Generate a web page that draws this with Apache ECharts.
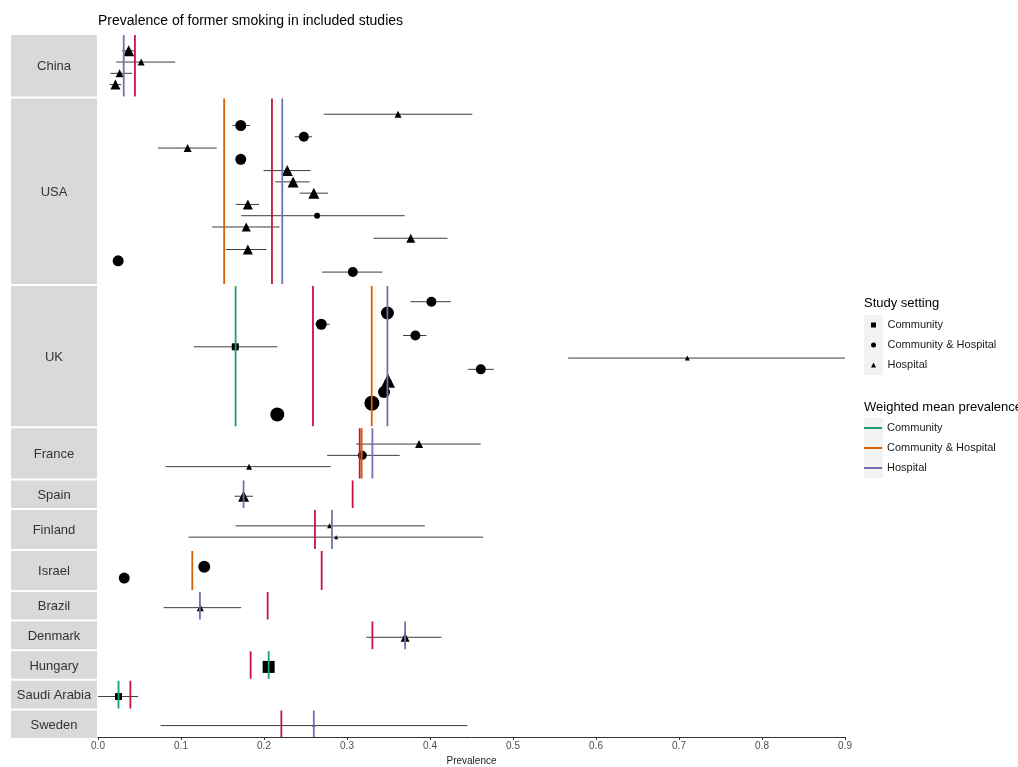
<!DOCTYPE html>
<html><head><meta charset="utf-8">
<script src="https://cdn.jsdelivr.net/npm/echarts@6/dist/echarts.min.js"></script>
<style>html,body{margin:0;padding:0;background:#fff}#c{width:1018px;height:767px}</style>
</head><body><div id="c"></div>
<script>
// ---------------- DATA ----------------
const countries = ['China','USA','UK','France','Spain','Finland','Israel','Brazil','Denmark','Hungary','Saudi Arabia','Sweden'];
const settings = ['Community','Community & Hospital','Hospital'];
const xTickLabels = ['0.0','0.1','0.2','0.3','0.4','0.5','0.6','0.7','0.8','0.9'];

const studyCountry = [
  'China','China','China','China',
  'USA','USA','USA','USA','USA','USA','USA','USA','USA','USA','USA','USA','USA','USA','USA',
  'UK','UK','UK','UK','UK','UK','UK','UK','UK','UK','UK',
  'France','France','France',
  'Spain',
  'Finland','Finland',
  'Israel','Israel',
  'Brazil',
  'Denmark',
  'Hungary',
  'Saudi Arabia',
  'Sweden'
];
const studySetting = [
  'Hospital','Hospital','Hospital','Hospital',
  'Hospital','Community & Hospital','Community & Hospital','Hospital','Community & Hospital','Hospital','Hospital','Hospital','Hospital','Community & Hospital','Hospital','Hospital','Hospital','Community & Hospital','Community & Hospital',
  'Community & Hospital','Community & Hospital','Community & Hospital','Community & Hospital','Community','Hospital','Community & Hospital','Hospital','Community & Hospital','Community & Hospital','Community & Hospital',
  'Hospital','Community & Hospital','Hospital',
  'Hospital',
  'Hospital','Hospital',
  'Community & Hospital','Community & Hospital',
  'Hospital',
  'Hospital',
  'Community',
  'Community',
  'Hospital'
];
const studyEst = [
  0.037,0.052,0.026,0.021,
  0.3615,0.172,0.248,0.108,0.172,0.228,0.235,0.260,0.1806,0.264,0.1786,0.3768,0.1806,0.0243,0.307,
  0.4017,0.3487,0.269,0.3824,0.1654,0.710,0.4612,0.3494,0.3446,0.330,0.216,
  0.3868,0.3185,0.182,
  0.1754,
  0.279,0.287,
  0.128,0.0316,
  0.1232,
  0.370,
  0.2056,
  0.0247,
  0.260
];
const studyLow = [
  0.029,0.022,0.015,0.014,
  0.272,0.162,0.237,0.072,0.168,0.1995,0.2136,0.243,0.166,0.1726,0.1377,0.332,0.1537,0.022,0.270,
  0.3764,0.345,0.262,0.3675,0.1155,0.5665,0.446,0.345,0.340,0.326,0.212,
  0.311,0.276,0.0814,
  0.1646,
  0.1658,0.109,
  0.125,0.029,
  0.079,
  0.3234,
  0.200,
  0.0,
  0.0754
];
const studyHigh = [
  0.045,0.093,0.041,0.028,
  0.451,0.183,0.258,0.143,0.176,0.256,0.255,0.277,0.194,0.3695,0.2188,0.421,0.203,0.027,0.3427,
  0.425,0.352,0.279,0.3957,0.216,0.900,0.477,0.354,0.349,0.334,0.220,
  0.461,0.3635,0.2803,
  0.1866,
  0.3937,0.464,
  0.131,0.034,
  0.1726,
  0.4138,
  0.211,
  0.0485,
  0.445
];
// relative study weight (drives marker size)
const studyWeight = [
  9,5,6,8,
  5,9,8,6,9,9,9,9,8,4,7,7,8,9,8,
  8,11,9,8,5,3,8,12,10,13,12,
  6,7,4,
  9,
  3,2,
  10,9,
  5,
  7,
  10,
  5,
  1
];

const meanCountry = [
  'China','China',
  'USA','USA','USA',
  'UK','UK','UK','UK',
  'France','France','France',
  'Spain','Spain',
  'Finland','Finland',
  'Israel','Israel',
  'Brazil','Brazil',
  'Denmark','Denmark',
  'Hungary','Hungary',
  'Saudi Arabia','Saudi Arabia',
  'Sweden','Sweden'
];
const meanType = [
  'Hospital','Overall',
  'Community & Hospital','Overall','Hospital',
  'Community','Overall','Community & Hospital','Hospital',
  'Overall','Community & Hospital','Hospital',
  'Hospital','Overall',
  'Overall','Hospital',
  'Community & Hospital','Overall',
  'Hospital','Overall',
  'Overall','Hospital',
  'Overall','Community',
  'Community','Overall',
  'Overall','Hospital'
];
const meanValue = [
  0.031,0.0445,
  0.152,0.2096,0.222,
  0.1658,0.259,0.3298,0.3487,
  0.3153,0.3177,0.3306,
  0.1754,0.3068,
  0.2614,0.2819,
  0.1136,0.2695,
  0.1228,0.2044,
  0.3306,0.370,
  0.1839,0.2056,
  0.0247,0.039,
  0.2209,0.260
];

// ---------------- STYLE / LAYOUT ----------------
const FONT = '"Liberation Sans", Arial, sans-serif';
const meanColors = {'Community':'#1b9e77','Community & Hospital':'#d95f02','Hospital':'#7570b3','Overall':'#c8143c'};
const settingSymbol = {'Community':'rect','Community & Hospital':'circle','Hospital':'triangle'};
const PLOT_LEFT = 98, PLOT_RIGHT = 845, TOP = 35, BOTTOM = 738, GAP = 2, PAD_T = 1.4, PAD_B = 1.05;
const STRIP_X = 11, STRIP_W = 86;

const rowsPer = countries.map(c => studyCountry.filter(s => s === c).length);
const unitsPer = rowsPer.map(n => n - 1 + PAD_T + PAD_B);
const totalUnits = unitsPer.reduce((a, b) => a + b, 0);
const unit = (BOTTOM - TOP - GAP * (countries.length - 1)) / totalUnits;
const tops = [], heights = [];
let cur = TOP;
unitsPer.forEach(u => { tops.push(cur); heights.push(u * unit); cur += u * unit + GAP; });

const grids = [], xAxes = [], yAxes = [], series = [], graphics = [];
const last = countries.length - 1;

countries.forEach((c, gi) => {
  const n = rowsPer[gi];
  grids.push({left: PLOT_LEFT, top: tops[gi], width: PLOT_RIGHT - PLOT_LEFT, height: heights[gi], containLabel: false});
  xAxes.push({
    gridIndex: gi, type: 'value', min: 0, max: 0.9, interval: 0.1, show: gi === last, position: 'bottom',
    splitLine: {show: false},
    axisLine: {show: true, onZero: false, lineStyle: {color: '#333', width: 1}},
    axisTick: {show: true, inside: false, length: 3, lineStyle: {color: '#333'}},
    axisLabel: {fontSize: 10, color: '#4d4d4d', margin: 4, fontFamily: FONT,
      formatter: v => xTickLabels[Math.round(v * 10)] ?? ''},
    name: gi === last ? 'Prevalence' : '', nameLocation: 'middle', nameGap: 19,
    nameTextStyle: {fontSize: 10, color: '#1a1a1a', fontFamily: FONT}
  });
  yAxes.push({gridIndex: gi, type: 'value', inverse: true, min: 1 - PAD_T, max: n + PAD_B, show: false, splitLine: {show: false}});

  // studies of this country
  const idx = [];
  studyCountry.forEach((s, i) => { if (s === c) idx.push(i); });
  const ebData = idx.map((i, r) => [studyLow[i], studyHigh[i], r + 1]);
  series.push({
    type: 'custom', xAxisIndex: gi, yAxisIndex: gi, silent: true, z: 2, clip: true,
    data: ebData,
    encode: {x: [0, 1], y: 2},
    renderItem: (params, api) => {
      const p1 = api.coord([api.value(0), api.value(2)]);
      const p2 = api.coord([api.value(1), api.value(2)]);
      return {type: 'line', shape: {x1: p1[0], y1: p1[1], x2: p2[0], y2: p2[1]},
        style: {stroke: '#3c3c3c', lineWidth: 1}};
    }
  });
  settings.forEach(st => {
    const d = [];
    idx.forEach((i, r) => { if (studySetting[i] === st) d.push([studyEst[i], r + 1, studyWeight[i]]); });
    series.push({
      type: 'scatter', name: st, xAxisIndex: gi, yAxisIndex: gi, z: 3, silent: true,
      symbol: settingSymbol[st],
      symbolSize: v => 2 + v[2],
      itemStyle: {color: '#000', opacity: 1},
      data: d
    });
  });
  meanCountry.forEach((mc, j) => {
    if (mc !== c) return;
    const t = meanType[j];
    series.push({
      type: 'line', name: t + ' (mean)', xAxisIndex: gi, yAxisIndex: gi, z: 4, silent: true,
      symbol: 'none', color: meanColors[t],
      lineStyle: {color: meanColors[t], width: 1.8},
      itemStyle: {color: meanColors[t]},
      data: [[meanValue[j], 1 - PAD_T], [meanValue[j], n + PAD_B]]
    });
  });

  // facet strip
  graphics.push({type: 'rect', silent: true, shape: {x: STRIP_X, y: tops[gi], width: STRIP_W, height: heights[gi]},
    style: {fill: '#d9d9d9'}});
  graphics.push({type: 'text', silent: true, x: STRIP_X + STRIP_W / 2, y: tops[gi] + heights[gi] / 2 + 1,
    style: {text: c, align: 'center', verticalAlign: 'middle', fontSize: 13, fontFamily: FONT, fill: '#333'}});
});

// title and legend titles / key backgrounds
graphics.push({type: 'text', silent: true, x: 98, y: 21,
  style: {text: 'Prevalence of former smoking in included studies', verticalAlign: 'middle', fontSize: 14, fontFamily: FONT, fill: '#000'}});
graphics.push({type: 'text', silent: true, x: 864, y: 303,
  style: {text: 'Study setting', verticalAlign: 'middle', fontSize: 13, fontFamily: FONT, fill: '#000'}});
graphics.push({type: 'text', silent: true, x: 864, y: 407,
  style: {text: 'Weighted mean prevalence', verticalAlign: 'middle', fontSize: 13, fontFamily: FONT, fill: '#000'}});
graphics.push({type: 'rect', silent: true, z: -10, shape: {x: 864, y: 315, width: 19, height: 60}, style: {fill: '#f2f2f2'}});
graphics.push({type: 'rect', silent: true, z: -10, shape: {x: 864, y: 418, width: 19, height: 60}, style: {fill: '#f2f2f2'}});

const chart = echarts.init(document.getElementById('c'), null, {renderer: 'canvas'});
chart.setOption({
  animation: false,
  backgroundColor: '#fff',
  grid: grids,
  xAxis: xAxes,
  yAxis: yAxes,
  legend: [
    {
      left: 871, top: 319, orient: 'vertical', padding: 0, selectedMode: false,
      itemWidth: 18, itemHeight: 5, itemGap: 8,
      textStyle: {fontSize: 11, color: '#1a1a1a', fontFamily: FONT, lineHeight: 12},
      data: [
        {name: 'Community', icon: 'path://M0,0L1,0L1,1L0,1Z'},
        {name: 'Community & Hospital', icon: 'circle'},
        {name: 'Hospital', icon: 'path://M0.5,0L1,1L0,1Z'}
      ]
    },
    {
      left: 864, top: 422, orient: 'vertical', padding: 0, selectedMode: false,
      itemWidth: 18, itemHeight: 2, itemGap: 8,
      formatter: name => name.replace(' (mean)', ''),
      textStyle: {fontSize: 11, color: '#1a1a1a', fontFamily: FONT, lineHeight: 12},
      data: [
        {name: 'Community (mean)', icon: 'rect'},
        {name: 'Community & Hospital (mean)', icon: 'rect'},
        {name: 'Hospital (mean)', icon: 'rect'}
      ]
    }
  ],
  graphic: graphics,
  series: series
});
</script>
</body></html>
